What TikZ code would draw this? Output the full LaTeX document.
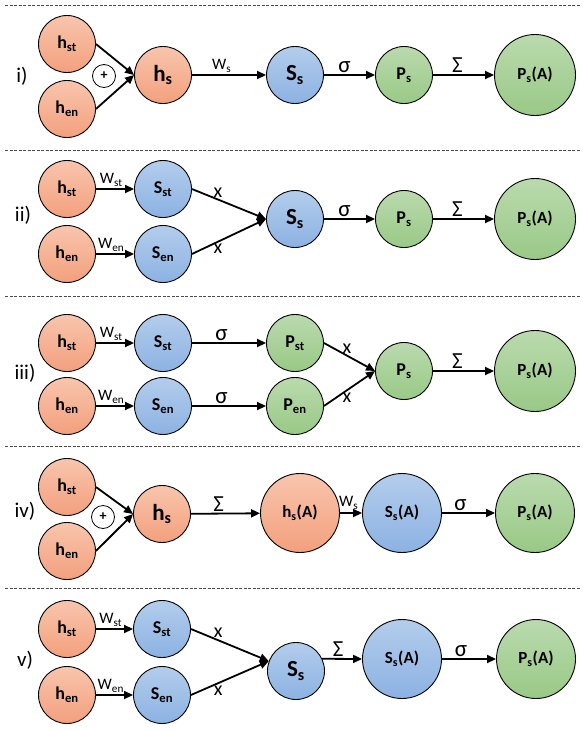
\documentclass[tikz,border=0pt]{standalone}
\usepackage{fontspec}
\setmainfont{Carlito}
\usetikzlibrary{arrows.meta,positioning}

\definecolor{hTop}{HTML}{F8C5AD}
\definecolor{hBot}{HTML}{F3A07D}
\definecolor{sTop}{HTML}{B3CDEC}
\definecolor{sBot}{HTML}{8CB2E2}
\definecolor{pTop}{HTML}{BADAAE}
\definecolor{pBot}{HTML}{99C986}

\begin{document}
\begin{tikzpicture}[x=1pt,y=-1pt,
  >={Triangle[length=9pt,width=8pt]},
  unit/.style={circle,draw,line width=0.9pt,minimum size=57pt,inner sep=0pt,
    font=\fontsize{18}{18}\selectfont\bfseries},
  aggr/.style={unit,minimum size=79pt,font=\fontsize{17}{17}\selectfont\bfseries},
  bigtext/.style={font=\fontsize{23}{23}\selectfont\bfseries},
  hred/.style={top color=hTop,bottom color=hBot},
  sblue/.style={top color=sTop,bottom color=sBot},
  pgreen/.style={top color=pTop,bottom color=pBot},
  oplus/.style={circle,draw,line width=0.8pt,minimum size=23pt,inner sep=0pt,
    font=\fontsize{14}{14}\selectfont\bfseries},
  lbl/.style={font=\fontsize{16}{16}\selectfont,inner sep=1.5pt,pos=0.4},
  gk/.style={lbl,font=\fontsize{23}{23}\selectfont},
  xl/.style={lbl,font=\fontsize{20}{20}\selectfont},
  tag/.style={font=\fontsize{21}{21}\selectfont},
  arr/.style={->,line width=1.8pt},
  divider/.style={dash pattern=on 3pt off 1.5pt,line width=0.9pt,black!70}
  ]

  \useasboundingbox (0,0) rectangle (582,731);

  \foreach \y in {5,150,296,446,588}
    \draw[divider] (5,\y) -- (580,\y);

  % i)
  \node[tag] (r1) at (22,76) {i)};
  \node[unit,hred] (hst1) at (67,44) {h\textsubscript{st}};
  \node[unit,hred] (hen1) at (67,109) {h\textsubscript{en}};
  \node[oplus] (pl1) at (104,76) {+};
  \node[unit,hred,bigtext] (hs1) at (163,75) {h\textsubscript{s}};
  \node[unit,sblue,bigtext] (ss1) at (295,75) {S\textsubscript{s}};
  \node[unit,pgreen] (ps1) at (404,75) {P\textsubscript{s}};
  \node[aggr,pgreen,minimum size=81pt] (psa1) at (535,75) {P\textsubscript{s}(A)};
  \draw[arr] (hst1.east) -- (hs1.west);
  \draw[arr] (hen1.east) -- (hs1.west);
  \draw[arr] (hs1) -- node[lbl,above] (w1) {W\textsubscript{s}} (ss1);
  \draw[arr] (ss1) -- node[gk,above] (sg1) {σ} (ps1);
  \draw[arr] (ps1) -- node[gk,above] (sm1) {Σ} (psa1);

  % ii)
  \node[tag] (r2) at (23,215) {ii)};
  \node[unit,hred] (hst2) at (67,189) {h\textsubscript{st}};
  \node[unit,hred] (hen2) at (67,254) {h\textsubscript{en}};
  \node[unit,sblue] (sst2) at (163,189) {S\textsubscript{st}};
  \node[unit,sblue] (sen2) at (163,254) {S\textsubscript{en}};
  \node[unit,sblue,bigtext] (ss2) at (295,219) {S\textsubscript{s}};
  \node[unit,pgreen] (ps2) at (404,219) {P\textsubscript{s}};
  \node[aggr,pgreen,minimum size=81pt] (psa2) at (535,219) {P\textsubscript{s}(A)};
  \draw[arr] (hst2) -- node[lbl,above] (wst2) {W\textsubscript{st}} (sst2);
  \draw[arr] (hen2) -- node[lbl,above] (wen2) {W\textsubscript{en}} (sen2);
  \draw[arr] (sst2.east) -- node[xl,above,pos=0.35] (xa2) {x} (ss2.west);
  \draw[arr] (sen2.east) -- node[xl,below,pos=0.35] (xb2) {x} (ss2.west);
  \draw[arr] (ss2) -- node[gk,above] (sg2) {σ} (ps2);
  \draw[arr] (ps2) -- node[gk,above] (sm2) {Σ} (psa2);

  % iii)
  \node[tag] (r3) at (25,373) {iii)};
  \node[unit,hred] (hst3) at (67,343) {h\textsubscript{st}};
  \node[unit,hred] (hen3) at (67,406) {h\textsubscript{en}};
  \node[unit,sblue] (sst3) at (163,343) {S\textsubscript{st}};
  \node[unit,sblue] (sen3) at (163,406) {S\textsubscript{en}};
  \node[unit,pgreen] (pst3) at (295,343) {P\textsubscript{st}};
  \node[unit,pgreen] (pen3) at (295,406) {P\textsubscript{en}};
  \node[unit,pgreen] (ps3) at (404,371) {P\textsubscript{s}};
  \node[aggr,pgreen,minimum size=81pt] (psa3) at (535,371) {P\textsubscript{s}(A)};
  \draw[arr] (hst3) -- node[lbl,above] (wst3) {W\textsubscript{st}} (sst3);
  \draw[arr] (hen3) -- node[lbl,above] (wen3) {W\textsubscript{en}} (sen3);
  \draw[arr] (sst3) -- node[gk,above] (sga3) {σ} (pst3);
  \draw[arr] (sen3) -- node[gk,above] (sgb3) {σ} (pen3);
  \draw[arr] (pst3.east) -- node[xl,above,pos=0.45] (xa3) {x} (ps3.west);
  \draw[arr] (pen3.east) -- node[xl,below,pos=0.45] (xb3) {x} (ps3.west);
  \draw[arr] (ps3) -- node[gk,above] (sm3) {Σ} (psa3);

  % iv)
  \node[tag] (r4) at (25,511) {iv)};
  \node[unit,hred] (hst4) at (67,487) {h\textsubscript{st}};
  \node[unit,hred] (hen4) at (67,551) {h\textsubscript{en}};
  \node[oplus] (pl4) at (103,517) {+};
  \node[unit,hred,bigtext] (hs4) at (162,514) {h\textsubscript{s}};
  \node[aggr,hred] (hsa4) at (300,513) {h\textsubscript{s}(A)};
  \node[aggr,sblue] (ssa4) at (402,513) {S\textsubscript{s}(A)};
  \node[aggr,pgreen] (psa4) at (535,513) {P\textsubscript{s}(A)};
  \draw[arr] (hst4.east) -- (hs4.west);
  \draw[arr] (hen4.east) -- (hs4.west);
  \draw[arr] (hs4) -- node[gk,above] (sm4) {Σ} (hsa4);
  \draw[arr] (hsa4) -- node[lbl,above,inner sep=3pt] (w4) {W\textsubscript{s}} (ssa4);
  \draw[arr] (ssa4) -- node[gk,above,pos=0.35] (sg4) {σ} (psa4);

  % v)
  \node[tag] (r5) at (25,660) {v)};
  \node[unit,hred] (hst5) at (67,629) {h\textsubscript{st}};
  \node[unit,hred] (hen5) at (67,695) {h\textsubscript{en}};
  \node[unit,sblue] (sst5) at (162,629) {S\textsubscript{st}};
  \node[unit,sblue] (sen5) at (162,695) {S\textsubscript{en}};
  \node[unit,sblue,bigtext] (ss5) at (296,671) {S\textsubscript{s}};
  \node[aggr,sblue] (ssa5) at (402,659) {S\textsubscript{s}(A)};
  \node[aggr,pgreen] (psa5) at (536,659) {P\textsubscript{s}(A)};
  \draw[arr] (hst5) -- node[lbl,above] (wst5) {W\textsubscript{st}} (sst5);
  \draw[arr] (hen5) -- node[lbl,above] (wen5) {W\textsubscript{en}} (sen5);
  \draw[arr] (sst5.east) -- node[xl,above,pos=0.35] (xa5) {x} (ss5.160);
  \draw[arr] (sen5.east) -- node[xl,below,pos=0.35] (xb5) {x} (ss5.160);
  \draw[arr] (ss5.25) -- node[gk,above] (sm5) {Σ} (ssa5.west);
  \draw[arr] (ssa5) -- node[gk,above,pos=0.35] (sg5) {σ} (psa5);

\end{tikzpicture}
\end{document}
